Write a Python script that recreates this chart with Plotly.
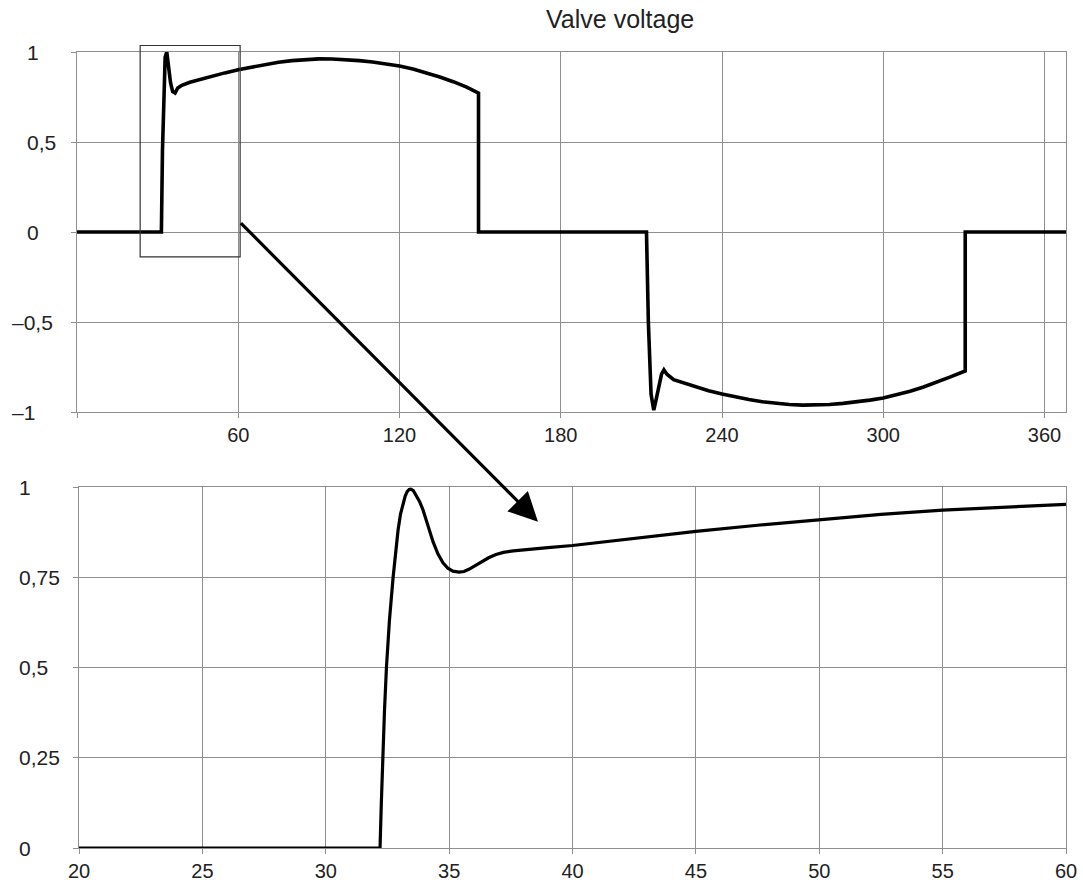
import plotly.graph_objects as go
from plotly.subplots import make_subplots

# ---- full period of the valve voltage (angle in degrees, voltage in p.u.) ----
pos_angle = [0, 31.4, 31.8, 32.3, 32.8, 33.4, 34.0, 34.8, 35.6, 36.5, 37.5, 39, 42,
             45, 50, 55, 60, 65, 70, 75, 80, 85, 90, 95, 100, 105, 110, 115, 120,
             125, 130, 135, 140, 145, 149.4, 149.4]
pos_volt = [0, 0, 0.45, 0.82, 0.97, 1.0, 0.93, 0.83, 0.78, 0.772, 0.8, 0.815, 0.832,
            0.845, 0.865, 0.884, 0.902, 0.917, 0.931, 0.943, 0.952, 0.958, 0.962, 0.961,
            0.958, 0.952, 0.944, 0.934, 0.922, 0.905, 0.885, 0.861, 0.835, 0.805, 0.772, 0]

neg_angle = [211.9, 212.6, 213.6, 214.6, 215.5, 216.6, 217.5, 218.4, 219.5, 222,
             225, 230, 235, 240, 245, 250, 255, 260, 265, 270, 275, 280, 285, 290, 295,
             300, 305, 310, 315, 320, 325, 330.5, 330.5, 368]
neg_volt = [0, -0.5, -0.9, -0.99, -0.93, -0.86, -0.79, -0.766, -0.79, -0.82,
            -0.835, -0.86, -0.882, -0.9, -0.917, -0.931, -0.943, -0.952, -0.958, -0.962,
            -0.961, -0.958, -0.952, -0.944, -0.934, -0.922, -0.905, -0.885, -0.861,
            -0.835, -0.805, -0.772, 0, 0]

# ---- detail of the turn-on transient ----
detail_angle = [20, 32.2, 32.25, 32.3, 32.38, 32.46, 32.58, 32.73, 32.83, 32.93, 33.03,
                33.13, 33.22, 33.3, 33.38, 33.45, 33.55, 33.65, 33.8, 33.94, 34.15, 34.35,
                34.55, 34.75, 34.95, 35.15, 35.4, 35.6, 35.8, 36.05, 36.3, 36.6, 36.9,
                37.2, 37.6, 38.0, 38.5, 39, 40, 42.5, 45, 47.5, 50, 52.5, 55, 57.5, 60]
detail_volt = [0, 0, 0.12, 0.25, 0.38, 0.5, 0.63, 0.75, 0.82, 0.88, 0.925,
               0.955, 0.975, 0.987, 0.993, 0.994, 0.99, 0.978, 0.96, 0.937, 0.89, 0.848,
               0.814, 0.79, 0.775, 0.767, 0.764, 0.766, 0.772, 0.782, 0.793, 0.804, 0.813,
               0.819, 0.823, 0.826, 0.829, 0.832, 0.838, 0.858, 0.877, 0.894, 0.91, 0.924,
               0.936, 0.945, 0.952]

# axis ticks
top_xticks = [0, 60, 120, 180, 240, 300, 360]
top_xtext = ["", "60", "120", "180", "240", "300", "360"]
top_yticks = [1, 0.5, 0, -0.5, -1]
top_ytext = ["1", "0,5", "0", "–0,5", "–1"]
bot_xticks = [20, 25, 30, 35, 40, 45, 50, 55, 60]
bot_yticks = [0, 0.25, 0.5, 0.75, 1]
bot_ytext = ["0", "0,25", "0,5", "0,75", "1"]

W, H = 1083, 882
ML, MR, MT, MB = 77, 17, 52, 34
PW, PH = W - ML - MR, H - MT - MB

TOP_XR = [0, 368]
TOP_YR = [-1, 1]
TOP_DOM_Y = [(848 - 412) / PH, 1.0]
BOT_DOM_Y = [0.0, (848 - 487) / PH]
BOT_DOM_X = [2 / PW, 1.0]

FONT = "Liberation Sans, Arial, sans-serif"
GRID = "#8f8f8f"
TXT = "#222222"
TICK_SIZE = 20

fig = make_subplots(rows=2, cols=1)

fig.add_trace(go.Scatter(x=pos_angle + neg_angle, y=pos_volt + neg_volt, mode="lines",
                         line=dict(color="black", width=3.6), showlegend=False,
                         cliponaxis=False), row=1, col=1)
fig.add_trace(go.Scatter(x=detail_angle, y=detail_volt, mode="lines",
                         line=dict(color="black", width=3.2),
                         showlegend=False, cliponaxis=False), row=2, col=1)

axis_common = dict(showgrid=True, gridcolor=GRID, gridwidth=1, showline=True,
                   linecolor=GRID, linewidth=1, mirror=True, ticks="outside",
                   ticklen=5, tickcolor=GRID, zeroline=False, automargin=False,
                   tickfont=dict(family=FONT, size=TICK_SIZE, color=TXT))

fig.update_xaxes(**axis_common)
fig.update_yaxes(**axis_common)

fig.update_layout(
    width=W, height=H,
    margin=dict(l=ML, r=MR, t=MT, b=MB, autoexpand=False),
    plot_bgcolor="white", paper_bgcolor="white",
    xaxis=dict(range=TOP_XR, tickvals=top_xticks, ticktext=top_xtext, domain=[0, 1]),
    yaxis=dict(range=TOP_YR, tickvals=top_yticks, showticklabels=False, domain=TOP_DOM_Y),
    xaxis2=dict(range=[20, 60], tickvals=bot_xticks, domain=BOT_DOM_X),
    yaxis2=dict(range=[0, 1], tickvals=bot_yticks, showticklabels=False, domain=BOT_DOM_Y),
)


def top_paper(xv, yv):
    px = (xv - TOP_XR[0]) / (TOP_XR[1] - TOP_XR[0])
    py = TOP_DOM_Y[0] + (yv - TOP_YR[0]) / (TOP_YR[1] - TOP_YR[0]) * (TOP_DOM_Y[1] - TOP_DOM_Y[0])
    return px, py


# zoom window marked on the overview
rx0, ry0 = top_paper(23.5, -0.138)
rx1, ry1 = top_paper(60.7, 1.036)
fig.add_shape(type="rect", xref="paper", yref="paper", x0=rx0, y0=ry0, x1=rx1, y1=ry1,
              line=dict(color="#333333", width=1.2), fillcolor="rgba(0,0,0,0)")

annotations = []
# left-aligned y tick labels
for v, t in zip(top_yticks, top_ytext):
    left_px = 10 if t.startswith("–") else 25
    annotations.append(dict(xref="paper", yref="y", x=(left_px - ML) / PW, y=v, text=t,
                            xanchor="left", yanchor="middle", showarrow=False,
                            font=dict(family=FONT, size=21, color=TXT)))
for v, t in zip(bot_yticks, bot_ytext):
    annotations.append(dict(xref="paper", yref="y2", x=(17 - ML) / PW, y=v, text=t,
                            xanchor="left", yanchor="middle", showarrow=False,
                            font=dict(family=FONT, size=21, color=TXT)))

# title
annotations.append(dict(xref="paper", yref="paper", x=(620 - ML) / PW, y=1 + 33 / PH,
                        text="Valve voltage", xanchor="center", yanchor="middle",
                        showarrow=False, font=dict(family=FONT, size=25, color=TXT)))

# arrow from the marked window to the detail plot
annotations.append(dict(xref="x2", yref="y2", x=38.6, y=0.904, axref="x2", ayref="y2",
                        ax=26.5, ay=1.735, text="", showarrow=True, arrowhead=2,
                        arrowsize=1.8, arrowwidth=3.2, arrowcolor="black", standoff=0))

fig.update_layout(annotations=annotations)

fig.write_html("out.html")
